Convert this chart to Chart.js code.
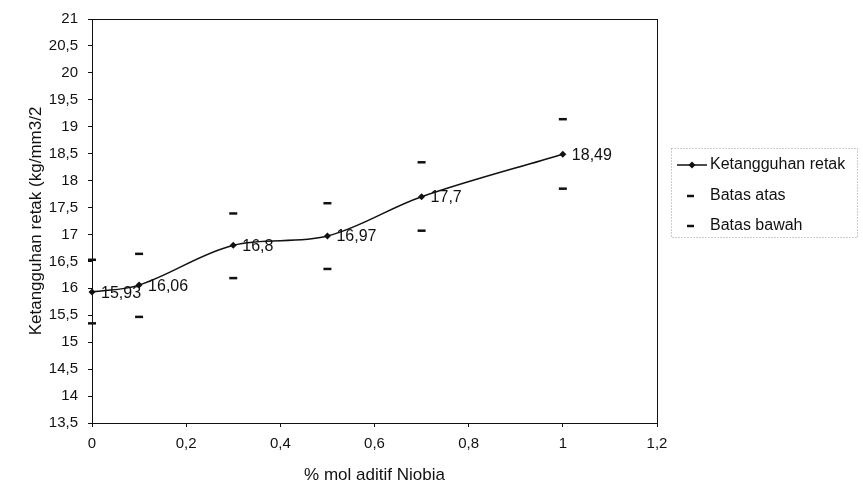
<!DOCTYPE html>
<html>
<head>
<meta charset="utf-8">
<script src="https://cdn.jsdelivr.net/npm/chart.js@4.4.1/dist/chart.umd.min.js"></script>
<style>
  html, body { margin: 0; padding: 0; background: #fff; }
  #wrap { width: 863px; height: 489px; position: relative; }
</style>
</head>
<body>
<div id="wrap"><canvas id="chart"></canvas></div>
<script>
// data
const molNiobia = [0, 0.1, 0.3, 0.5, 0.7, 1];
const ketangguhan = [15.93, 16.06, 16.8, 16.97, 17.7, 18.49];
const batasAtas = [16.53, 16.64, 17.39, 17.58, 18.34, 19.14];
const batasBawah = [15.35, 15.47, 16.19, 16.36, 17.07, 17.85];
const pointLabels = ['15,93', '16,06', '16,8', '16,97', '17,7', '18,49'];

const FONT = '"Liberation Sans", Arial, sans-serif';
const comma = v => String(Math.round(v * 10) / 10).replace('.', ',');
const toXY = ys => molNiobia.map((x, i) => ({ x: x, y: ys[i] }));

// frame round the plot area, like the Excel box
const framePlugin = {
  id: 'frame',
  afterDraw(chart) {
    const { ctx, chartArea: a } = chart;
    ctx.save();
    ctx.strokeStyle = '#111';
    ctx.lineWidth = 1;
    ctx.strokeRect(a.left + 0.5, a.top + 0.5, a.right - a.left, a.bottom - a.top);
    ctx.restore();
  }
};

// value labels next to each point of the main series
const labelPlugin = {
  id: 'pointLabels',
  afterDatasetsDraw(chart) {
    const { ctx } = chart;
    const meta = chart.getDatasetMeta(0);
    ctx.save();
    ctx.font = '16px ' + FONT;
    ctx.fillStyle = '#111';
    ctx.textBaseline = 'middle';
    ctx.textAlign = 'left';
    meta.data.forEach((pt, i) => {
      ctx.fillText(pointLabels[i], pt.x + 9, pt.y + 1);
    });
    ctx.restore();
  }
};

// legend box at the right
const legendPlugin = {
  id: 'sideLegend',
  afterDraw(chart) {
    const { ctx } = chart;
    const bx = 671, by = 148, bw = 186, bh = 89;
    ctx.save();
    ctx.strokeStyle = '#999';
    ctx.lineWidth = 1;
    ctx.setLineDash([1, 2]);
    ctx.strokeRect(bx + 0.5, by + 0.5, bw, bh);
    ctx.setLineDash([]);
    ctx.font = '16px ' + FONT;
    ctx.fillStyle = '#111';
    ctx.textBaseline = 'middle';
    const rows = [165, 196, 226];
    // main series sample
    ctx.strokeStyle = '#111';
    ctx.lineWidth = 1.5;
    ctx.beginPath();
    ctx.moveTo(677, rows[0]);
    ctx.lineTo(707, rows[0]);
    ctx.stroke();
    ctx.beginPath();
    ctx.moveTo(692, rows[0] - 3.5);
    ctx.lineTo(695.5, rows[0]);
    ctx.lineTo(692, rows[0] + 3.5);
    ctx.lineTo(688.5, rows[0]);
    ctx.closePath();
    ctx.fill();
    // dash samples
    ctx.lineWidth = 2.5;
    [rows[1], rows[2]].forEach(y => {
      ctx.beginPath();
      ctx.moveTo(687, y);
      ctx.lineTo(694, y);
      ctx.stroke();
    });
    ctx.fillText(chart.data.datasets[0].label, 710, rows[0]);
    ctx.fillText(chart.data.datasets[1].label, 710, rows[1]);
    ctx.fillText(chart.data.datasets[2].label, 710, rows[2]);
    ctx.restore();
  }
};

new Chart(document.getElementById('chart'), {
  type: 'scatter',
  data: {
    datasets: [
      {
        label: 'Ketangguhan retak',
        data: toXY(ketangguhan),
        showLine: true,
        tension: 0.35,
        borderColor: '#111',
        borderWidth: 1.5,
        pointStyle: 'rectRot',
        pointRadius: 3.5,
        pointBackgroundColor: '#111',
        pointBorderColor: '#111',
        pointBorderWidth: 0,
        clip: false
      },
      {
        label: 'Batas atas',
        data: toXY(batasAtas),
        showLine: false,
        pointStyle: 'line',
        pointRadius: 4,
        pointBorderColor: '#111',
        pointBorderWidth: 2.5,
        clip: false
      },
      {
        label: 'Batas bawah',
        data: toXY(batasBawah),
        showLine: false,
        pointStyle: 'line',
        pointRadius: 4,
        pointBorderColor: '#111',
        pointBorderWidth: 2.5,
        clip: false
      }
    ]
  },
  options: {
    responsive: true,
    maintainAspectRatio: false,
    animation: false,
    layout: { padding: { top: 14, right: 206, left: 0, bottom: 0 } },
    plugins: {
      legend: { display: false },
      tooltip: { enabled: false }
    },
    scales: {
      x: {
        type: 'linear',
        min: 0,
        max: 1.2,
        afterFit: s => { s.height = 66; },
        ticks: {
          stepSize: 0.2,
          color: '#111',
          padding: 8,
          font: { family: FONT, size: 15 },
          callback: v => comma(v)
        },
        grid: { drawOnChartArea: false, color: '#111', tickLength: 4 },
        border: { color: '#111', width: 1 },
        title: {
          display: true,
          text: '% mol aditif Niobia',
          color: '#111',
          font: { family: FONT, size: 17 },
          padding: { top: 0, bottom: 3 }
        }
      },
      y: {
        min: 13.5,
        max: 21,
        afterFit: s => { s.width = 92; },
        ticks: {
          stepSize: 0.5,
          color: '#111',
          padding: 10,
          font: { family: FONT, size: 15 },
          callback: v => comma(v)
        },
        grid: { drawOnChartArea: false, color: '#111', tickLength: 4 },
        border: { color: '#111', width: 1 },
        title: {
          display: true,
          text: 'Ketangguhan retak (kg/mm3/2',
          color: '#111',
          font: { family: FONT, size: 17 },
          padding: { top: 26, bottom: 0 }
        }
      }
    }
  },
  plugins: [framePlugin, labelPlugin, legendPlugin]
});
</script>
</body>
</html>
